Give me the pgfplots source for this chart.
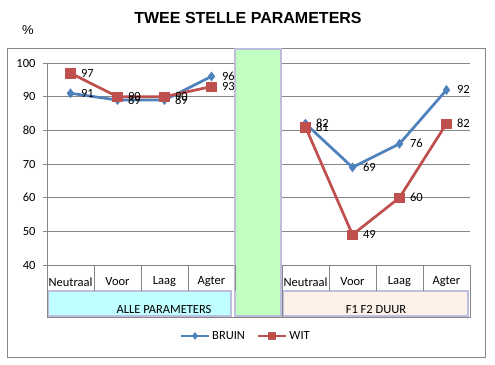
\documentclass[border=0pt]{standalone}
\usepackage{pgfplots}
\pgfplotsset{compat=1.18}
\usepackage{fontspec}
\setmainfont{Carlito}
\newfontfamily\arialfont{Liberation Sans}
\definecolor{bruin}{HTML}{4F81BD}
\definecolor{wit}{HTML}{C0504D}
\definecolor{gridgray}{HTML}{868686}
\definecolor{lav}{HTML}{BDBDE0}
\definecolor{greenfill}{HTML}{C0FFC0}
\definecolor{cyanfill}{HTML}{C0FFFF}
\definecolor{peachfill}{HTML}{FDF1E8}
\newcommand{\lf}{\fontsize{12.5}{14}\selectfont}
\begin{document}
\begin{tikzpicture}
\path[use as bounding box] (0pt,0pt) rectangle (495pt,-364pt);
\fill[white] (0pt,0pt) rectangle (495pt,-364pt);
\draw[gridgray, line width=0.8pt] (7pt,-48pt) rectangle (485pt,-357pt);
\node[font=\arialfont\bfseries\fontsize{16}{18}\selectfont] at (248pt,-18pt) {TWEE STELLE PARAMETERS};
\node[font=\arialfont\fontsize{13}{15}\selectfont] at (28pt,-30pt) {\%};
\begin{axis}[
  at={(47pt,-265pt)}, anchor=south west,
  scale only axis, width=423pt, height=202pt,
  xmin=-0.5, xmax=8.5, ymin=40, ymax=100,
  ytick={40,50,...,100}, xtick=\empty,
  axis x line*=bottom, axis y line*=left,
  axis line style={gridgray, line width=0.8pt},
  ymajorgrids, grid style={gridgray, line width=0.8pt},
  tick align=outside, major tick length=4pt,
  tick style={gridgray, line width=0.8pt},
  yticklabel style={font=\lf, xshift=-4pt},
  /pgf/number format/assume math mode=true,
  clip=false,
  nodes near coords, 
  nodes near coords style={font=\lf, anchor=west, xshift=7pt, text=black},
  legend columns=2,
  legend style={draw=none, fill=none, font=\lf, at={(0.47,-0.351)}, anchor=center,
    /tikz/every even column/.append style={column sep=10pt}},
  legend image code/.code={
    \draw[#1, line width=2.4pt, mark repeat=2, mark phase=2, mark size=3.5pt] plot coordinates {(0pt,0pt) (14pt,0pt) (28pt,0pt)};},
]
\addplot[bruin, line width=2.7pt, mark=diamond*, mark size=4.5pt, mark options={line width=0.5pt}] coordinates {(0,91) (1,89) (2,89) (3,96)};
\addlegendentry{BRUIN}
\addplot[wit, line width=2.7pt, mark=square*, mark size=4.8pt, mark options={line width=0.5pt}] coordinates {(0,97) (1,90) (2,90) (3,93)};
\addlegendentry{WIT}
\addplot[bruin, line width=2.7pt, mark=diamond*, mark size=4.5pt, mark options={line width=0.5pt}, forget plot] coordinates {(5,82) (6,69) (7,76) (8,92)};
\addplot[wit, line width=2.7pt, mark=square*, mark size=4.8pt, mark options={line width=0.5pt}, forget plot] coordinates {(5,81) (6,49) (7,60) (8,82)};
\end{axis}
% separator decoration
\fill[greenfill, draw=lav, line width=1.2pt] (235pt,-49pt) rectangle (281pt,-316pt);
\fill[cyanfill, draw=lav, line width=1.2pt] (48pt,-291pt) rectangle (231pt,-316pt);
\fill[peachfill, draw=lav, line width=1.2pt] (283pt,-291pt) rectangle (468pt,-316pt);
\draw[gridgray, line width=0.8pt] (47pt,-265pt) -- (47pt,-317pt) -- (470pt,-317pt) -- (470pt,-265pt);
\draw[gridgray, line width=0.8pt] (282pt,-265pt) -- (282pt,-317pt);
\foreach \x in {94,141,188,235,329,376,423} {\draw[gridgray, line width=0.8pt] (\x pt,-265pt) -- (\x pt,-291pt);}
\foreach \x/\t in {70.5/Neutraal,117.5/Voor,164.5/Laag,211.5/Agter,305.5/Neutraal,352.5/Voor,399.5/Laag,446.5/Agter} {\node[font=\lf] at (\x pt,-282pt) {\t};}
\node[font=\lf] at (164pt,-309pt) {ALLE PARAMETERS};
\node[font=\lf] at (376pt,-309pt) {F1 F2 DUUR};
\end{tikzpicture}
\end{document}
